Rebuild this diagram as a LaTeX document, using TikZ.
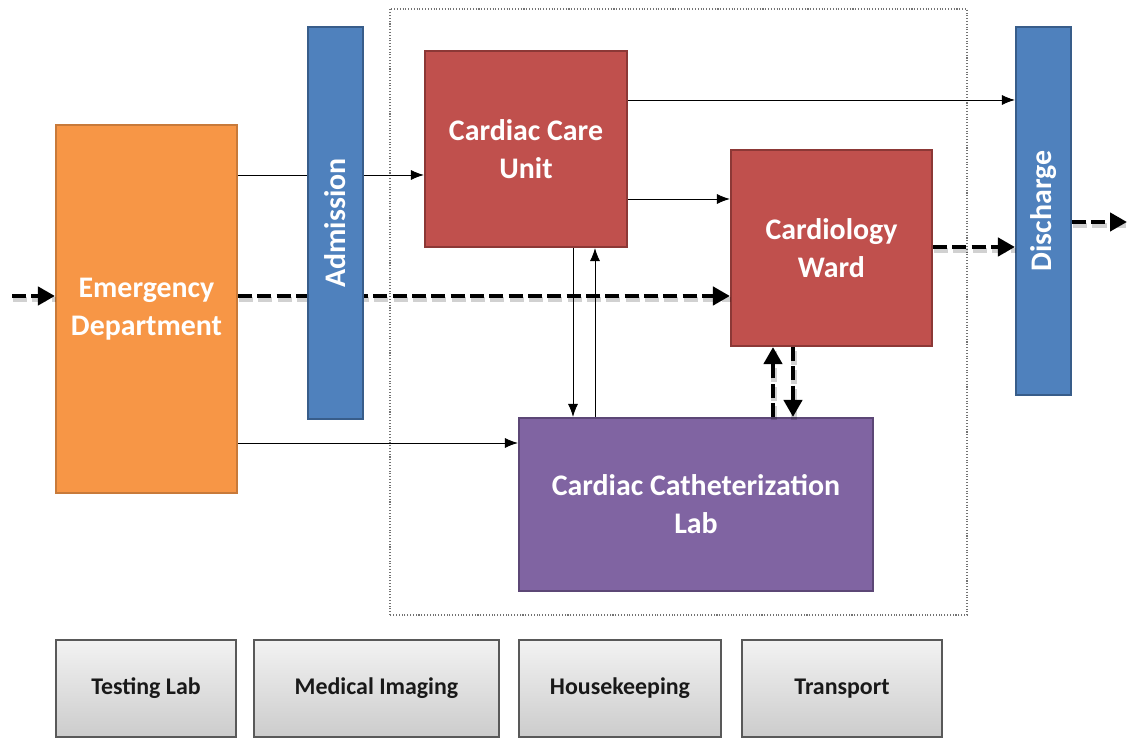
\documentclass[tikz,border=0pt]{standalone}
\usepackage{fontspec}
\setmainfont{Carlito}
\usetikzlibrary{arrows.meta}

\definecolor{edfill}{HTML}{F79646}
\definecolor{eddraw}{HTML}{C87A3A}
\definecolor{bluefill}{HTML}{4F81BD}
\definecolor{bluedraw}{HTML}{385D8A}
\definecolor{redfill}{HTML}{C0504D}
\definecolor{reddraw}{HTML}{8C3836}
\definecolor{labfill}{HTML}{8064A2}
\definecolor{labdraw}{HTML}{5C4776}

\tikzset{
  unit/.style={draw, line width=1.2pt, align=center, text=white, font=\bfseries\fontsize{17}{21.5}\selectfont, inner sep=0pt},
  bar/.style={unit, fill=bluefill, draw=bluedraw},
  service/.style={draw=black!65, line width=0.8pt, top color=black!5, bottom color=black!20, font=\bfseries\fontsize{13.6}{16}\selectfont, text=black!90, minimum height=1.94cm},
  flow/.style={line width=0.5pt, -{Latex[length=2.6mm,width=2mm]}},
  patient/.style={line width=2.6pt, dash pattern=on 8pt off 3pt, -{Triangle[length=3.4mm,width=3.6mm]},
    preaction={draw=black, draw opacity=0.18, line width=3.4pt, dash pattern=on 8pt off 3pt, -, transform canvas={yshift=-2pt,xshift=0.6pt}}},
}

\begin{document}
\begin{tikzpicture}
\useasboundingbox (0,0) rectangle (22.54,14.76);
% hospital frame
\draw[black!55, densely dotted, line width=0.6pt] (7.80,2.46) rectangle (19.34,14.58);

\node[unit, fill=edfill, draw=eddraw, minimum width=3.62cm, minimum height=7.36cm] (ed) at (2.93,8.58) {Emergency\\Department};
\node[unit, fill=redfill, draw=reddraw, minimum width=4.04cm, minimum height=3.92cm] (ccu) at (10.52,11.78) {Cardiac Care\\Unit};
\node[unit, fill=redfill, draw=reddraw, minimum width=4.02cm, minimum height=3.92cm] (ward) at (16.63,9.80) {Cardiology\\Ward};
\node[unit, fill=labfill, draw=labdraw, minimum width=7.08cm, minimum height=3.46cm] (cath) at (13.92,4.67) {Cardiac Catheterization\\Lab};

% flows passing behind admission
\draw[flow] (ed.east |- 0,11.26) -- (ccu.west |- 0,11.26);
\draw[patient] (ed.east |- 0,8.84) -- (ward.west |- 0,8.84);

\node[bar, minimum width=1.10cm, minimum height=7.84cm] (adm) at (6.71,10.30) {};
\node[rotate=90, text=white, font=\bfseries\fontsize{17}{21.5}\selectfont] at (adm.center) {Admission};
\node[bar, minimum width=1.10cm, minimum height=7.36cm] (dis) at (20.87,10.54) {};
\node[rotate=90, text=white, font=\bfseries\fontsize{17}{21.5}\selectfont] at (dis.center) {Discharge};

\coordinate (in) at (0.24,8.84);
\coordinate (out) at (22.54,10.32);

\draw[flow] (ccu.east |- 0,12.76) -- (dis.west |- 0,12.76);
\draw[flow] (ccu.east |- 0,10.78) -- (ward.west |- 0,10.78);
\draw[flow] (ed.east |- 0,5.90) -- (cath.west |- 0,5.90);
\draw[flow] (ccu.south -| 11.46,0) -- (cath.north -| 11.46,0);
\draw[flow] (cath.north -| 11.90,0) -- (ccu.south -| 11.90,0);

\draw[patient] (in) -- (ed.west |- in);
\draw[patient] (ward.east |- 0,9.82) -- (dis.west |- 0,9.82);
\draw[patient] (dis.east |- out) -- (out);
\draw[patient] (cath.north -| 15.46,0) -- (ward.south -| 15.46,0);
\draw[patient] (ward.south -| 15.86,0) -- (cath.north -| 15.86,0);

% support services
\node[service, minimum width=3.60cm] (lab) at (2.92,0.99) {Testing Lab};
\node[service, minimum width=4.90cm] (img) at (7.53,0.99) {Medical Imaging};
\node[service, minimum width=4.04cm] (house) at (12.40,0.99) {Housekeeping};
\node[service, minimum width=4.00cm] (trans) at (16.84,0.99) {Transport};
\end{tikzpicture}
\end{document}
